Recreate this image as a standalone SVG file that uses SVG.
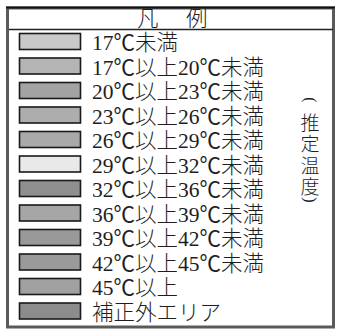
<svg xmlns="http://www.w3.org/2000/svg" width="337" height="333" viewBox="0 0 337 333">
<style>
.t{font-family:"Liberation Serif","Noto Sans CJK JP",serif;font-size:21.5px;fill:#1e1e1e}
.c{font-family:"Noto Sans CJK JP",sans-serif}
.j{font-family:"Noto Sans CJK JP",sans-serif;font-weight:300}
.sw{stroke:#1a1a1a;stroke-width:1.6}
.frame{fill:none;stroke:#5a5a5a;stroke-width:3}
.v{font-family:"Noto Sans CJK JP",sans-serif;font-weight:300;font-size:19px;fill:#1e1e1e;text-anchor:middle;dominant-baseline:central}
.p{font-family:"Liberation Serif",serif;font-size:16px;fill:#1e1e1e;text-anchor:middle;dominant-baseline:central}
</style>
<rect width="337" height="333" fill="#ffffff"/>
<g id="frame">
<rect class="frame" x="7.5" y="8" width="326" height="319"/>
<line x1="6" y1="7.5" x2="335" y2="7.5" stroke="#111" stroke-width="2"/>
<line x1="9" y1="29.5" x2="333" y2="29.5" stroke="#222" stroke-width="1.5"/>
</g>
<g id="title">
<text class="t j" x="137" y="26" font-size="20">凡</text>
<text class="t j" x="186" y="26" font-size="20">例</text>
</g>
<g id="row1" transform="translate(0,33)"><rect class="sw" x="19.5" y="0.5" width="61" height="16" fill="#c9c9c9"/><text class="t" x="92" y="17">17<tspan class="c">℃</tspan><tspan class="j">未満</tspan></text></g>
<g id="row2" transform="translate(0,57.5)"><rect class="sw" x="19.5" y="0.5" width="61" height="16" fill="#b4b4b4"/><text class="t" x="92" y="17">17<tspan class="c">℃</tspan><tspan class="j">以上</tspan>20<tspan class="c">℃</tspan><tspan class="j">未満</tspan></text></g>
<g id="row3" transform="translate(0,82)"><rect class="sw" x="19.5" y="0.5" width="61" height="16" fill="#a3a3a3"/><text class="t" x="92" y="17">20<tspan class="c">℃</tspan><tspan class="j">以上</tspan>23<tspan class="c">℃</tspan><tspan class="j">未満</tspan></text></g>
<g id="row4" transform="translate(0,106.5)"><rect class="sw" x="19.5" y="0.5" width="61" height="16" fill="#adadad"/><text class="t" x="92" y="17">23<tspan class="c">℃</tspan><tspan class="j">以上</tspan>26<tspan class="c">℃</tspan><tspan class="j">未満</tspan></text></g>
<g id="row5" transform="translate(0,131)"><rect class="sw" x="19.5" y="0.5" width="61" height="16" fill="#a9a9a9"/><text class="t" x="92" y="17">26<tspan class="c">℃</tspan><tspan class="j">以上</tspan>29<tspan class="c">℃</tspan><tspan class="j">未満</tspan></text></g>
<g id="row6" transform="translate(0,155.5)"><rect class="sw" x="19.5" y="0.5" width="61" height="16" fill="#e9e9e9"/><text class="t" x="92" y="17">29<tspan class="c">℃</tspan><tspan class="j">以上</tspan>32<tspan class="c">℃</tspan><tspan class="j">未満</tspan></text></g>
<g id="row7" transform="translate(0,180)"><rect class="sw" x="19.5" y="0.5" width="61" height="16" fill="#8f8f8f"/><text class="t" x="92" y="17">32<tspan class="c">℃</tspan><tspan class="j">以上</tspan>36<tspan class="c">℃</tspan><tspan class="j">未満</tspan></text></g>
<g id="row8" transform="translate(0,204.5)"><rect class="sw" x="19.5" y="0.5" width="61" height="16" fill="#a6a6a6"/><text class="t" x="92" y="17">36<tspan class="c">℃</tspan><tspan class="j">以上</tspan>39<tspan class="c">℃</tspan><tspan class="j">未満</tspan></text></g>
<g id="row9" transform="translate(0,229)"><rect class="sw" x="19.5" y="0.5" width="61" height="16" fill="#999999"/><text class="t" x="92" y="17">39<tspan class="c">℃</tspan><tspan class="j">以上</tspan>42<tspan class="c">℃</tspan><tspan class="j">未満</tspan></text></g>
<g id="row10" transform="translate(0,253.5)"><rect class="sw" x="19.5" y="0.5" width="61" height="16" fill="#9a9a9a"/><text class="t" x="92" y="17">42<tspan class="c">℃</tspan><tspan class="j">以上</tspan>45<tspan class="c">℃</tspan><tspan class="j">未満</tspan></text></g>
<g id="row11" transform="translate(0,278)"><rect class="sw" x="19.5" y="0.5" width="61" height="16" fill="#a0a0a0"/><text class="t" x="92" y="17">45<tspan class="c">℃</tspan><tspan class="j">以上</tspan></text></g>
<g id="row12" transform="translate(0,302.5)"><rect class="sw" x="19.5" y="0.5" width="61" height="16" fill="#8c8c8c"/><text class="t j" x="92" y="17">補正外エリア</text></g>
<g id="caption">
<text class="p" transform="translate(310,100) rotate(90)">(</text>
<text class="v" x="310" y="121">推</text>
<text class="v" x="310" y="142">定</text>
<text class="v" x="310" y="164">温</text>
<text class="v" x="310" y="185">度</text>
<text class="p" transform="translate(310,200) rotate(90)">)</text>
</g>
</svg>
